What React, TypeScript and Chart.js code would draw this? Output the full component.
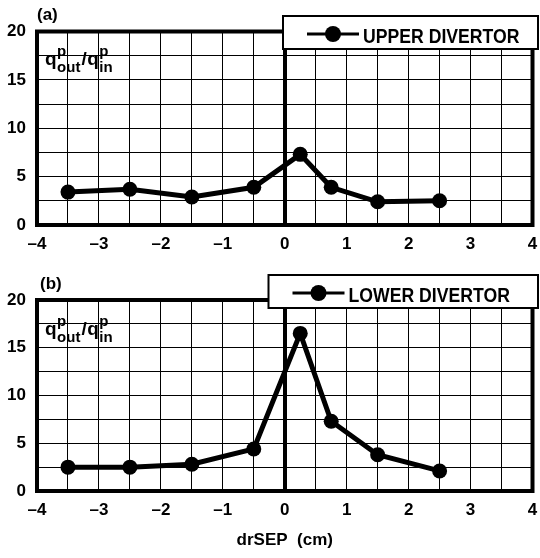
import React, { useEffect, useRef } from "react";
import { Chart, registerables } from "chart.js";

Chart.register(...registerables);

// ---- data ----
const xValues = [-3.5, -2.5, -1.5, -0.5, 0.25, 0.75, 1.5, 2.5];
const upperDivertor = [3.4, 3.7, 2.9, 3.9, 7.3, 3.9, 2.4, 2.5];
const lowerDivertor = [2.5, 2.5, 2.8, 4.4, 16.5, 7.3, 3.8, 2.1];
const xTickLabels = ["\u20134", "\u20133", "\u20132", "\u20131", "0", "1", "2", "3", "4"];
const yTickLabels = ["0", "5", "10", "15", "20"];
const xTitle = "drSEP  (cm)";

const FONT = '"Liberation Sans", Arial, Helvetica, sans-serif';

const decorPlugin = {
  id: "decor",
  beforeDatasetsDraw(chart: any) {
    const { ctx, chartArea: a } = chart;
    ctx.save();
    ctx.strokeStyle = "#000";
    ctx.lineWidth = 4;
    ctx.strokeRect(a.left, a.top, a.right - a.left, a.bottom - a.top);
    ctx.restore();
  },
  afterDraw(chart: any) {
    const o = chart.options.plugins.decor;
    const { ctx, chartArea: a } = chart;
    ctx.save();
    ctx.fillStyle = "#000";
    ctx.textBaseline = "alphabetic";
    ctx.textAlign = "left";

    // y-axis label q^p_out / q^p_in inside the plot
    let x = a.left + 8;
    const base = a.top + 33.5 + (o.labelDy || 0);
    const big = `bold 19px ${FONT}`;
    const small = `bold 15px ${FONT}`;
    ctx.font = big;
    ctx.fillText("q", x, base);
    x += ctx.measureText("q").width + 0.5;
    ctx.font = small;
    ctx.fillText("p", x, base - 9);
    ctx.fillText("out", x, base + 6.5);
    x += ctx.measureText("out").width + 1;
    ctx.font = big;
    ctx.fillText("/", x, base);
    x += ctx.measureText("/").width + 0.5;
    ctx.fillText("q", x, base);
    x += ctx.measureText("q").width + 0.5;
    ctx.font = small;
    ctx.fillText("p", x, base - 9);
    ctx.fillText("in", x, base + 6.5);

    // panel label
    ctx.font = `bold 17px ${FONT}`;
    ctx.fillText(o.panel, o.panelX, o.panelY);

    // legend box
    const ds = chart.data.datasets[0];
    const bx = o.boxX, by = o.boxY, bh = 33, bw = 538 - o.boxX;
    ctx.fillStyle = "#fff";
    ctx.fillRect(bx, by, bw, bh);
    ctx.strokeStyle = "#000";
    ctx.lineWidth = 2;
    ctx.strokeRect(bx, by, bw, bh);
    const ly = by + 18;
    ctx.lineWidth = 3;
    ctx.beginPath();
    ctx.moveTo(bx + 24, ly);
    ctx.lineTo(bx + 76, ly);
    ctx.stroke();
    ctx.fillStyle = "#000";
    ctx.beginPath();
    ctx.arc(bx + 50, ly, 8, 0, Math.PI * 2);
    ctx.fill();
    ctx.font = `bold 21px ${FONT}`;
    ctx.translate(bx + 80, by + 27);
    ctx.scale(0.84, 1);
    ctx.fillText(ds.label, 0, 0);
    ctx.restore();
  },
};

function makeConfig(label: string, values: number[], opts: any) {
  return {
    type: "scatter" as const,
    data: {
      datasets: [
        {
          label,
          data: xValues.map((x, i) => ({ x, y: values[i] })),
          showLine: true,
          borderColor: "#000",
          backgroundColor: "#000",
          borderWidth: 5,
          pointRadius: 7.5,
          pointBackgroundColor: "#000",
          pointBorderWidth: 0,
          tension: 0,
        },
      ],
    },
    options: {
      responsive: false,
      animation: false as const,
      layout: { padding: { top: opts.padTop, right: 5, left: 0, bottom: 0 } },
      plugins: {
        legend: { display: false },
        tooltip: { enabled: false },
        decor: opts.decor,
      },
      scales: {
        x: {
          type: "linear" as const,
          min: -4,
          max: 4,
          afterFit: (s: any) => {
            s.height = opts.xHeight;
            s.paddingLeft = 0;
            s.paddingRight = 0;
          },
          ticks: {
            stepSize: 0.5,
            autoSkip: false,
            maxRotation: 0,
            padding: 9,
            color: "#000",
            font: { family: FONT, size: 17, weight: "bold" },
            callback: (v: any) => (Number.isInteger(v) ? xTickLabels[v + 4] : ""),
          },
          grid: {
            color: "#000",
            lineWidth: (c: any) => (c.tick && c.tick.value === 0 ? 4 : 1),
            drawTicks: false,
          },
          border: { display: false },
          title: {
            display: !!opts.showTitle,
            text: xTitle,
            color: "#000",
            font: { family: FONT, size: 17, weight: "bold" },
            padding: { top: 0, bottom: 7 },
          },
        },
        y: {
          min: 0,
          max: 20,
          afterFit: (s: any) => {
            s.width = 37;
          },
          ticks: {
            stepSize: 2.5,
            padding: 11,
            color: "#000",
            font: { family: FONT, size: 17, weight: "bold" },
            callback: (v: any) => (v % 5 === 0 ? yTickLabels[v / 5] : ""),
          },
          grid: { color: "#000", lineWidth: 1, drawTicks: false },
          border: { display: false },
        },
      },
    },
    plugins: [decorPlugin],
  };
}

function Panel(props: { label: string; values: number[]; opts: any; height: number; top: number }) {
  const ref = useRef<HTMLCanvasElement | null>(null);
  useEffect(() => {
    if (!ref.current) return;
    const chart = new Chart(ref.current, makeConfig(props.label, props.values, props.opts) as any);
    return () => chart.destroy();
  }, []);
  return (
    <canvas
      ref={ref}
      width={540}
      height={props.height}
      style={{ position: "absolute", left: 0, top: props.top, display: "block" }}
    />
  );
}

export default function App() {
  return (
    <div style={{ position: "absolute", left: 0, top: 0, width: 540, height: 558, background: "#fff" }}>
      <Panel
        label="UPPER DIVERTOR"
        values={upperDivertor}
        height={270}
        top={0}
        opts={{
          padTop: 31.5,
          xHeight: 45,
          decor: { panel: "(a)", panelX: 37, panelY: 20, boxX: 283, boxY: 16 },
        }}
      />
      <Panel
        label="LOWER DIVERTOR"
        values={lowerDivertor}
        height={288}
        top={270}
        opts={{
          padTop: 30,
          xHeight: 67,
          showTitle: true,
          decor: { panel: "(b)", panelX: 40, panelY: 19, boxX: 268.5, boxY: 5, labelDy: 1.5 },
        }}
      />
    </div>
  );
}
